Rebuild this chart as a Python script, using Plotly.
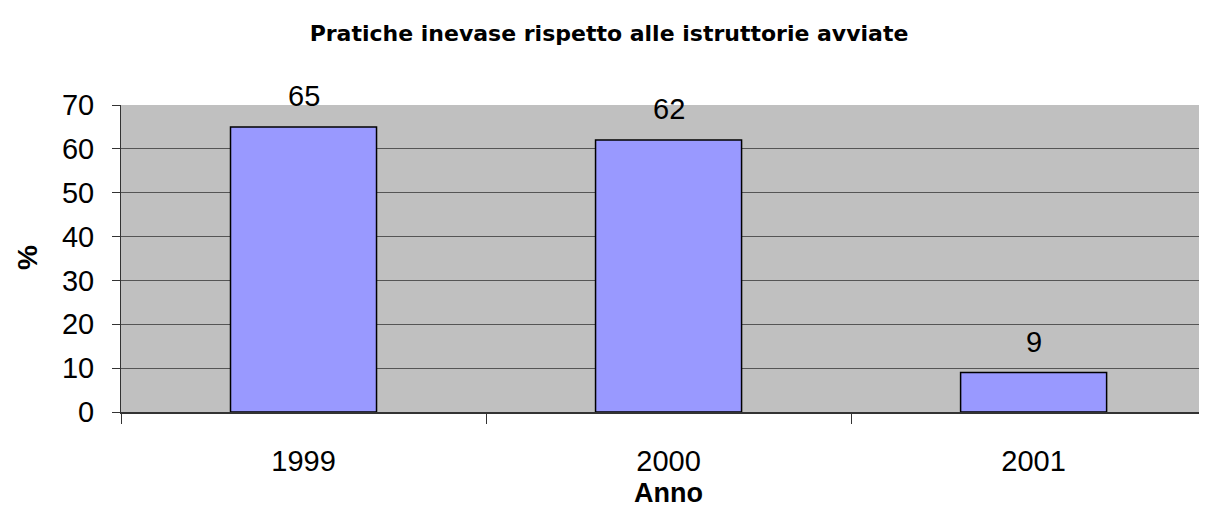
import plotly.graph_objects as go

# Data
years = ["1999", "2000", "2001"]
values = [65, 62, 9]
y_ticks = [0, 10, 20, 30, 40, 50, 60, 70]

title_text = "Pratiche inevase rispetto alle istruttorie avviate"
x_title = "Anno"
y_title = "%"

OFF = 8  # page body margin
W, H = 1207 - OFF, 524 - 2 * OFF
L, R, T = 121 - OFF, 0, 105 - OFF
B = H - (412 - OFF)
PW, PH = W - L - R, H - T - B

fig = go.Figure()
fig.add_trace(go.Bar(
    x=years, y=values, width=0.4,
    marker=dict(color="#9999FF", line=dict(color="#000000", width=1.5)),
    hoverinfo="skip",
))

for i, v in enumerate(values):
    fig.add_annotation(x=i, y=v, text=str(v), showarrow=False,
                       xref="x", yref="y", yanchor="middle", yshift=31,
                       font=dict(family="Liberation Sans, Arial", size=29, color="#000000"))

fig.add_annotation(x=(668 - OFF - L) / PW, y=(412 - 493) / PH,
                   xref="paper", yref="paper", text=f"<b>{x_title}</b>",
                   showarrow=False, xanchor="center", yanchor="middle",
                   font=dict(family="Liberation Sans, Arial", size=27, color="#000000"))
fig.add_annotation(x=(27 - 121) / PW, y=(412 - 258) / PH,
                   xref="paper", yref="paper", text=f"<b>{y_title}</b>",
                   showarrow=False, textangle=-90, xanchor="center", yanchor="middle",
                   font=dict(family="Liberation Sans, Arial", size=28, color="#000000"))

fig.update_layout(
    width=W, height=H,
    margin=dict(l=L, r=R, t=T, b=B, pad=0),
    paper_bgcolor="#FFFFFF",
    plot_bgcolor="#C0C0C0",
    showlegend=False,
    title=dict(text=f"<b>{title_text}</b>", x=(609 - OFF) / W, xref="container", xanchor="center",
               y=1 - (33 - OFF) / H, yref="container", yanchor="middle",
               font=dict(family="DejaVu Sans", size=22, color="#000000")),
    bargap=0.6,
)

fig.update_xaxes(
    type="category", range=[-0.5, 2.475],
    tickson="boundaries", ticks="outside", ticklen=10, tickcolor="#333333", tickwidth=1,
    showline=True, linecolor="#333333", linewidth=2,
    showgrid=False, zeroline=False,
    ticklabelstandoff=22,
    tickfont=dict(family="Liberation Sans, Arial", size=29, color="#000000"),
)
fig.update_yaxes(
    range=[0, 70], tickvals=y_ticks, ticks="outside", ticklen=8, tickcolor="#333333", tickwidth=1,
    showline=True, linecolor="#333333", linewidth=1,
    showgrid=True, gridcolor="#555555", gridwidth=1, zeroline=False,
    ticklabelstandoff=12,
    tickfont=dict(family="Liberation Sans, Arial", size=29, color="#000000"),
)

fig.write_html("out.html")
